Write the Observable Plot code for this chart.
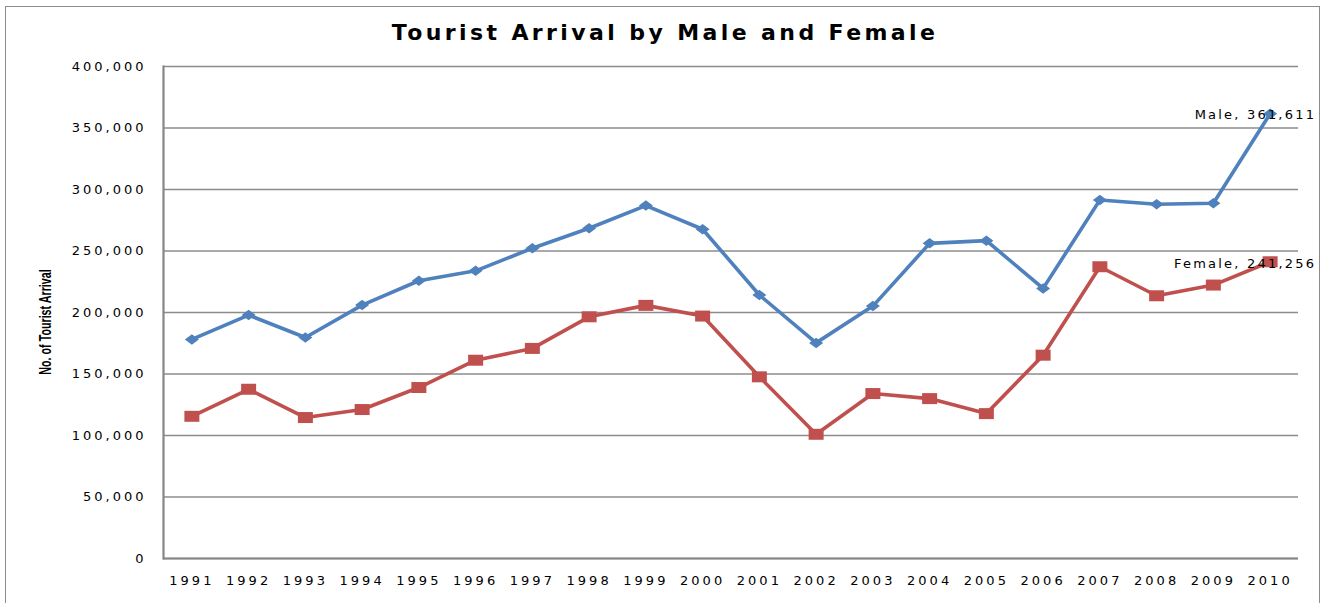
<!DOCTYPE html>
<html>
<head>
<meta charset="utf-8">
<script src="https://cdn.jsdelivr.net/npm/d3@7"></script>
<script src="https://cdn.jsdelivr.net/npm/@observablehq/plot@0.6"></script>
<style>
  html, body { margin: 0; padding: 0; background: #fff; overflow: hidden; }
  #wrap { position: relative; width: 1330px; height: 603px; }
  #frame { position: absolute; left: 5px; top: 6px; width: 1315px; height: 700px;
           border: 1.5px solid #8c8c8c; box-sizing: border-box; pointer-events: none; }
  #title { position: relative; height: 50px; width: 1330px; text-align: center;
           font-family: "DejaVu Sans", sans-serif; font-weight: bold; font-size: 22px;
           letter-spacing: 3.4px; line-height: 50px; padding-top: 8px; box-sizing: border-box;
           color: #000; }
  #ylab { position: absolute; left: 46px; top: 322px;
          transform: translate(-50%, -50%) rotate(-90deg) scale(0.63, 1);
          font-family: "Liberation Sans Narrow", "Liberation Sans", sans-serif;
          font-weight: bold; font-size: 17px; white-space: nowrap; color: #000; }
  svg text { font-family: "DejaVu Sans", sans-serif; }
  svg [aria-label="y-axis tick label"] text, svg [aria-label="x-axis tick label"] text { letter-spacing: 3px; font-size: 13px; }
  svg [aria-label="text"] text { letter-spacing: 2.2px; }
</style>
</head>
<body>
<div id="wrap">
  <div id="title">Tourist Arrival by Male and Female</div>
  <div id="chart"></div>
  <div id="ylab">No. of Tourist Arrival</div>
  <div id="frame"></div>
</div>
<script>
const years = [1991,1992,1993,1994,1995,1996,1997,1998,1999,2000,2001,2002,2003,2004,2005,2006,2007,2008,2009,2010];
const male = [178100,197900,179700,206000,225800,233900,252200,268500,286900,267700,214200,175300,205200,256200,258400,219600,291500,288000,288800,361611];
const female = [115600,137600,114600,121100,139000,161200,170800,196500,205800,197100,147700,101000,134100,130000,117800,165300,237200,213600,222300,241256];
const yTicks = [0,50000,100000,150000,200000,250000,300000,350000,400000];
const seriesNames = ["Male", "Female"];
const seriesColors = ["#4F81BD", "#C0504D"];

const maleData = years.map((y, i) => ({year: y, value: male[i], series: seriesNames[0]}));
const femaleData = years.map((y, i) => ({year: y, value: female[i], series: seriesNames[1]}));
const fmt = d3.format(",");
const lastMale = maleData[maleData.length - 1];
const lastFemale = femaleData[femaleData.length - 1];

const rectSymbol = (w, h) => ({ draw(ctx) { ctx.rect(-w/2, -h/2, w, h); } });
const diamondSymbol = (w, h) => ({ draw(ctx) {
  ctx.moveTo(0, -h/2); ctx.lineTo(w/2, 0); ctx.lineTo(0, h/2); ctx.lineTo(-w/2, 0); ctx.closePath(); } });

const chart = Plot.plot({
  width: 1330,
  height: 553,
  marginTop: 16,
  marginBottom: 45,
  marginLeft: 163,
  marginRight: 32,
  style: { fontFamily: "DejaVu Sans, sans-serif", fontSize: "13px", color: "#000", background: "#fff" },
  x: { type: "point", domain: years, padding: 0.5, round: false, label: null },
  y: { domain: [0, 400000], label: null },
  marks: [
    Plot.ruleY(yTicks, { stroke: "#8c8c8c", strokeWidth: 1.3 }),
    Plot.frame({ anchor: "left", stroke: "#868686", strokeWidth: 2.2 }),
    Plot.ruleY([0], { stroke: "#868686", strokeWidth: 2.2 }),
    Plot.axisY({ ticks: yTicks, tickSize: 0, tickPadding: 17, tickFormat: fmt, label: null, fontSize: 13 }),
    Plot.axisX({ tickSize: 0, tickPadding: 17, tickFormat: d => String(d), label: null, fontSize: 13 }),
    Plot.line(maleData, { x: "year", y: "value", stroke: seriesColors[0], strokeWidth: 3.6 }),
    Plot.line(femaleData, { x: "year", y: "value", stroke: seriesColors[1], strokeWidth: 3.6 }),
    Plot.dot(maleData, { x: "year", y: "value", fill: seriesColors[0], symbol: diamondSymbol(14, 10.5) }),
    Plot.dot(femaleData, { x: "year", y: "value", fill: seriesColors[1], symbol: rectSymbol(15, 11) }),
    Plot.text([lastMale], { x: "year", y: "value", text: d => `${d.series}, ${fmt(d.value)}`,
                            textAnchor: "end", dx: 46, dy: 1, fill: "#000", fontSize: 13 }),
    Plot.text([lastFemale], { x: "year", y: "value", text: d => `${d.series}, ${fmt(d.value)}`,
                              textAnchor: "end", dx: 46, dy: 2, fill: "#000", fontSize: 13 })
  ]
});
document.getElementById("chart").appendChild(chart);
</script>
</body>
</html>
